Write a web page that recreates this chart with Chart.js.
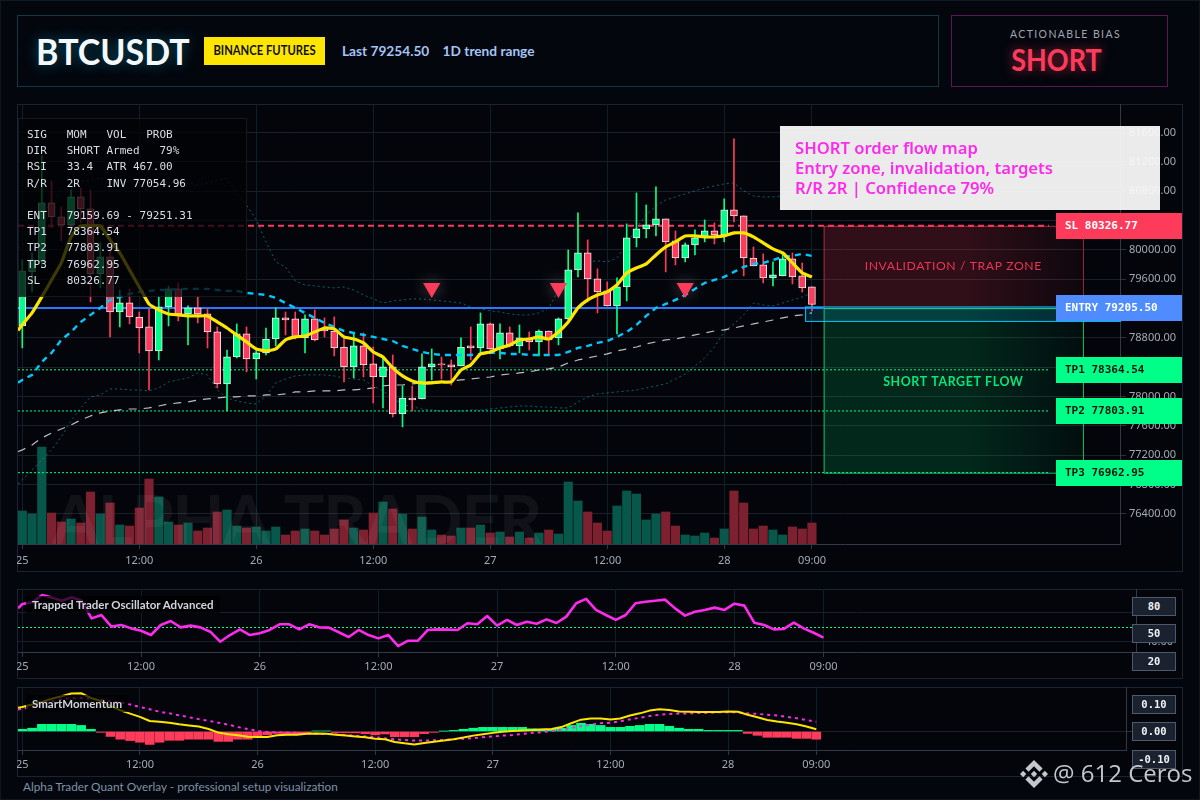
<!DOCTYPE html>
<html><head><meta charset="utf-8">
<script src="https://cdn.jsdelivr.net/npm/chart.js@4"></script>
<style>
html,body{margin:0;padding:0;width:1200px;height:800px;overflow:hidden;background:#04060d;}
#root{position:relative;width:1200px;height:800px;font-family:'Lato','Noto Sans',sans-serif;box-sizing:border-box;}
.frame{position:absolute;left:0;top:0;width:1200px;height:800px;box-sizing:border-box;border:1px solid #10151f;border-top-color:#0d1a26;pointer-events:none;}
.box{position:absolute;box-sizing:border-box;}
.panel{position:absolute;box-sizing:border-box;background:#03050a;border:1px solid #1b2433;}
canvas{position:absolute;display:block;}
#title{position:absolute;left:36px;top:27px;font:700 36px/48px 'Lato',sans-serif;color:#f4f8ff;text-shadow:0 0 14px rgba(0,210,255,.4);transform:scaleX(.945);transform-origin:left center;}
#badge{position:absolute;left:204px;top:37px;width:121px;height:28px;background:#ffe600;}
#badge span{display:block;width:121px;text-align:center;color:#111;font:700 12.5px/28px 'Lato',sans-serif;transform:scaleX(.9);}
#last{position:absolute;left:342px;top:42px;font:700 13.7px/18px 'Lato',sans-serif;color:#a5c4f5;white-space:pre;}
#biasT{position:absolute;left:957px;width:217px;top:27px;text-align:center;font:400 10.5px/14px 'Lato',sans-serif;letter-spacing:1.4px;color:#a0a7b4;}
#biasV{position:absolute;left:948px;width:217px;top:40px;text-align:center;font:700 30px/38px 'Lato',sans-serif;color:#ff3b5c;text-shadow:0 0 12px rgba(255,59,92,.6);transform:scaleX(.9);}
#info{position:absolute;left:18px;top:118px;width:229px;height:179px;box-sizing:border-box;background:rgba(1,2,5,.76);border:1px solid rgba(60,66,78,.35);padding:8px 0 0 8px;font:11px/16.2px 'DejaVu Sans Mono',monospace;color:#d9dfe8;white-space:pre;}
#note{position:absolute;left:780px;top:126px;width:380px;height:84px;background:rgba(250,250,250,.94);color:#ff2bea;font:600 16.6px/20px 'Noto Sans',sans-serif;padding:12px 0 0 15px;box-sizing:border-box;white-space:pre;}
.tag{position:absolute;left:1056px;width:126px;height:26px;font:700 11px/26px 'DejaVu Sans Mono',monospace;padding-left:9px;box-sizing:border-box;white-space:pre;}
.vbox{position:absolute;left:1132px;width:44px;height:19px;box-sizing:border-box;background:#1a222f;border:1px solid #4d5a6b;color:#f0f4f8;font:700 10.5px/17px 'DejaVu Sans Mono',monospace;text-align:center;}
.plabel{position:absolute;left:26px;height:17px;background:rgba(0,0,0,.72);padding:0 6px;color:#cfd5de;font:700 11.5px/17px 'Lato',sans-serif;white-space:pre;}
#foot{position:absolute;left:23px;top:780px;font:11.8px/14px 'Lato',sans-serif;color:#7c93a6;}
#mark{position:absolute;left:1053px;top:757px;font:400 24px/32px 'Open Sans',sans-serif;color:#c4c8cd;white-space:pre;}
#logo{position:absolute;left:1020px;top:760px;width:28px;height:28px;}
</style></head>
<body><div id="root">
<div class="box" style="left:17px;top:15px;width:922px;height:72px;background:#03060d;border:1px solid #0e3a45"></div>
<div id="title">BTCUSDT</div><div id="badge"><span>BINANCE FUTURES</span></div><div id="last">Last 79254.50    1D trend range</div>
<div class="box" style="left:951px;top:15px;width:217px;height:72px;background:#03060d;border:1px solid #5a1656"></div>
<div id="biasT">ACTIONABLE BIAS</div><div id="biasV">SHORT</div>
<div class="panel" style="left:17px;top:104px;width:1166px;height:468px"></div>
<div class="panel" style="left:17px;top:589px;width:1166px;height:90px"></div>
<div class="panel" style="left:17px;top:687px;width:1166px;height:90px"></div>
<canvas id="cMain" style="left:17px;top:104px"></canvas>
<canvas id="cOsc" style="left:17px;top:589px"></canvas>
<canvas id="cMom" style="left:17px;top:687px"></canvas>
<div id="info">SIG   MOM   VOL   PROB
DIR   SHORT Armed   79%
RSI   33.4  ATR 467.00
R/R   2R    INV 77054.96

ENT   79159.69 - 79251.31
TP1   78364.54
TP2   77803.91
TP3   76962.95
SL    80326.77</div>
<div id="note">SHORT order flow map
Entry zone, invalidation, targets
R/R 2R | Confidence 79%</div>
<div class="tag" id="tSL" style="background:#ff3b5c;color:#fff">SL 80326.77</div>
<div class="tag" id="tEN" style="background:#4f8cff;color:#fff">ENTRY 79205.50</div>
<div class="tag" id="tT1" style="background:#00ff88;color:#06140e">TP1 78364.54</div>
<div class="tag" id="tT2" style="background:#00ff88;color:#06140e">TP2 77803.91</div>
<div class="tag" id="tT3" style="background:#00ff88;color:#06140e">TP3 76962.95</div>
<div class="plabel" style="top:596px">Trapped Trader Oscillator Advanced</div>
<div class="plabel" style="top:695px">SmartMomentum</div>
<div class="vbox" style="top:597px">80</div><div class="vbox" style="top:624px">50</div><div class="vbox" style="top:652px">20</div>
<div class="vbox" style="top:695px">0.10</div><div class="vbox" style="top:722px">0.00</div><div class="vbox" style="top:750px">-0.10</div>
<div id="foot">Alpha Trader Quant Overlay - professional setup visualization</div>
<svg id="logo" viewBox="0 0 126.61 126.61"><path fill="#c4c8cd" d="M38.73 53.2l24.59-24.58 24.6 24.6 14.3-14.31L63.32 0 24.43 38.9zM0 63.31l14.3-14.31 14.31 14.31-14.31 14.3zM38.73 73.41l24.59 24.59 24.6-24.6 14.31 14.29-38.9 38.91-38.91-38.88-.02-.02zM98 63.31l14.3-14.31 14.31 14.3-14.31 14.32zM77.83 63.3L63.32 48.78 52.59 59.51l-1.24 1.23-2.54 2.54 14.51 14.5 14.51-14.47z"/></svg>
<div id="mark">@ 612 Ceros</div>
<div class="frame"></div>
</div>
<script>
const open=[78963,79699,79835,80639,80448,80339,80721,80557,79671,79903,
79153,79276,79085,78949,78622,79222,79467,79126,79208,79126,
78881,78172,78540,78854,78513,78595,78785,79072,79058,78799,
79058,78922,78894,78676,78404,78690,78445,78267,78404,77763,
77981,77968,78404,78445,78431,78417,78690,78663,78990,78649,
78867,78690,78785,78745,78894,78799,79058,79726,79958,79603,
79440,79235,79494,80162,80285,80339,80421,80121,79889,80067,
80162,80257,80203,80544,80462,79889,79794,79617,79644,79876,
79644,79494];
const close=[79712,79862,80639,80448,80339,80721,80557,79671,79903,79153,
79276,79085,78935,78622,79222,79467,79126,79208,79126,78881,
78172,78540,78854,78513,78595,78785,79072,79044,78813,79058,
78772,78894,78663,78404,78690,78431,78267,78404,77763,77981,
77954,78404,78445,78431,78404,78676,78663,78990,78649,78867,
78690,78799,78745,78894,78772,79058,79726,79958,79603,79426,
79235,79494,80162,80285,80339,80421,80108,79889,80067,80162,
80257,80203,80544,80462,79889,79780,79617,79658,79876,79631,
79481,79254.5];
const high=[79862,79958,81280,80939,80585,80816,80843,80816,80094,80039,
79453,79467,79153,79194,79358,79508,79549,79235,79358,79194,
78949,78635,78990,78949,78622,78935,79208,79153,79153,79113,
79181,79072,79085,78799,78867,78867,78676,78526,78567,78145,
78145,78581,78649,78540,78499,78799,78949,79140,79004,78990,
78949,78976,78881,78908,78894,79072,79998,80503,80135,79740,
79562,79617,80353,80775,80612,80857,80421,80257,80094,80271,
80407,80367,80694,81511,80462,80039,79944,79835,79958,79958,
79821,79494];
const low=[78663,79426,79767,80298,80121,80244,80367,79290,79481,78813,
78949,78990,78595,78090,78499,78963,79031,78704,79004,78663,
78118,77804,78526,78336,78240,78567,78690,78840,78785,78595,
78758,78813,78554,78199,78254,78267,77913,77845,77722,77586,
77804,77968,78227,78240,78158,78417,78499,78595,78635,78513,
78676,78595,78635,78554,78567,78704,79044,79631,79290,79140,
79235,78854,79303,80039,80162,80189,79699,79794,79835,79930,
80108,80080,80108,80380,79644,79780,79549,79508,79644,79535,
79426,79167];
const volume=[330,300,970,310,220,250,210,520,300,410,
190,180,360,650,470,220,190,210,130,160,
320,340,180,160,170,130,170,90,130,150,
130,90,150,240,160,140,310,420,350,300,
150,270,140,90,80,160,160,190,110,120,
70,120,60,110,140,100,620,430,320,210,
130,380,530,500,240,300,320,180,90,80,
110,60,150,530,410,150,180,140,90,170,
150,210];
const emaFast=[78980,79140,79358,79589,79821,80176,80326,80326,80326,80135,
79958,79726,79494,79262,79181,79126,79113,79099,79099,79099,
79017,78935,78840,78745,78649,78622,78649,78772,78813,78826,
78881,78935,78922,78813,78785,78731,78608,78540,78390,78281,
78213,78186,78186,78199,78199,78363,78431,78581,78608,78663,
78704,78772,78785,78813,78785,78881,79017,79208,79317,79385,
79426,79521,79685,79753,79808,79930,80039,80108,80189,80189,
80176,80176,80189,80230,80230,80176,80094,80012,79958,79821,
79685,79631];
const emaSlow=[78227,78295,78472,78595,78772,78881,79017,79113,79208,79317,
79358,79399,79426,79440,79453,79453,79467,79467,79467,79467,
79453,79440,79440,79412,79399,79385,79344,79276,79208,79140,
79072,79004,78949,78894,78867,78840,78813,78785,78758,78690,
78649,78608,78581,78567,78567,78567,78567,78581,78595,78595,
78581,78581,78567,78567,78567,78567,78608,78663,78690,78731,
78758,78813,78881,78976,79099,79208,79262,79317,79385,79467,
79549,79589,79631,79699,79767,79808,79821,79862,79903,79917,
79944,79917];
const bbUpper=[80067,80230,80435,80680,80803,80884,80925,80953,80980,80939,
80925,80925,80925,80925,80925,80912,80912,80912,80884,80912,
80953,80966,80775,80612,80407,80108,79835,79767,79576,79521,
79508,79494,79481,79494,79453,79385,79331,79276,79303,79317,
79331,79331,79317,79303,79290,79276,79222,79194,79167,79153,
79126,79113,79113,79140,79208,79453,79658,79767,79835,79849,
79835,79889,80067,80298,80476,80598,80680,80721,80762,80803,
80844,80871,80898,80912,80803,80734,80721,80721,80734,80734,
80748,80734];
const bbLower=[76864,77000,77136,77273,77450,77668,77845,77995,78022,78104,
78104,78090,78090,78077,78118,78199,78227,78254,78322,78295,
78090,77981,77940,77913,77899,78009,78186,78240,78281,78295,
78295,78295,78281,78254,78240,78227,78145,78077,77981,77899,
77859,77831,77818,77804,77804,77804,77818,77818,77831,77845,
77859,77872,77872,77859,77859,77845,77845,77927,77995,78036,
78050,78063,78077,78090,78118,78145,78172,78240,78308,78417,
78526,78676,78881,78990,79113,79276,79249,79235,79276,79317,
79358,79412];
const trend=[77273,77341,77436,77504,77559,77613,77681,77736,77777,77804,
77818,77831,77831,77845,77872,77899,77913,77927,77954,77968,
77981,77995,77995,78009,78009,78022,78022,78036,78063,78063,
78077,78077,78077,78090,78090,78104,78118,78145,78158,78158,
78172,78186,78199,78199,78213,78227,78240,78254,78267,78295,
78308,78322,78336,78363,78377,78404,78458,78499,78526,78554,
78581,78622,78649,78676,78717,78745,78772,78785,78813,78840,
78867,78894,78908,78935,78963,78990,79017,79044,79072,79099,
79113,79140];
const osc=[66.2,67.4,72.4,70.6,68.5,70.8,68.5,56.3,58.6,50.6,
51.7,49.4,47.8,44.8,51.7,54.5,50.1,51.3,50.1,47.1,
40.2,44.8,48.7,44.8,46,48.3,52.2,52.2,48.7,52.2,
50.1,49.9,46.7,43.4,48.3,44.8,42.5,44.8,37.2,40.9,
40.9,48.3,48.7,48.5,48.3,52.9,52.2,57.9,51.3,55.2,
51.7,54,52.6,55.6,53.1,57.5,66.7,69.7,62.1,58.6,
55.2,58.6,66.7,67.8,68.5,69.2,63.2,58.2,60.9,62.1,
63.7,62.1,66.4,65.1,53.3,51.7,48.7,49,53.3,49.4,
46.4,43];
const momLine=[.089,.098,.107,.119,.128,.138,.139,.122,.111,.093,
.077,.065,.053,.038,.035,.032,.026,.022,.018,.009,
-.004,-.010,-.014,-.019,-.020,-.020,-.014,-.012,-.012,-.008,
-.007,-.008,-.012,-.015,-.018,-.021,-.026,-.028,-.038,-.043,
-.047,-.042,-.037,-.033,-.028,-.022,-.015,-.010,-.005,-.001,
.002,.004,.005,.007,.009,.016,.030,.043,.047,.047,
.044,.047,.058,.066,.076,.081,.078,.073,.072,.071,
.071,.071,.073,.072,.061,.052,.042,.036,.032,.026,
.018,.008];
const momSignal=[.083,.089,.101,.110,.117,.121,.122,.119,.116,.110,
.106,.098,.089,.081,.072,.066,.059,.052,.045,.039,
.032,.025,.016,.009,.002,-.002,-.003,-.004,-.005,-.007,
-.008,-.009,-.010,-.013,-.015,-.018,-.021,-.025,-.028,-.031,
-.033,-.033,-.032,-.031,-.028,-.026,-.024,-.021,-.018,-.015,
-.013,-.009,-.005,-.002,.002,.007,.013,.019,.025,.030,
.032,.037,.044,.050,.056,.061,.064,.065,.066,.067,
.068,.070,.070,.070,.066,.064,.061,.058,.053,.048,
.042,.035];
const momHist=[.008,.012,.026,.026,.026,.026,.022,.008,-.003,-.018,
-.028,-.033,-.039,-.047,-.039,-.032,-.032,-.028,-.028,-.028,
-.036,-.036,-.028,-.028,-.021,-.012,-.007,-.008,-.009,-.005,
.002,.002,-.004,-.004,-.005,-.008,-.012,-.009,-.019,-.019,
-.019,-.008,-.003,.001,.004,.008,.012,.015,.015,.015,
.015,.015,.010,.009,.008,.012,.022,.030,.026,.022,
.015,.015,.019,.022,.026,.026,.019,.012,.008,.008,
.004,.004,.004,.004,-.007,-.014,-.021,-.021,-.021,-.025,
-.025,-.028];
const priceTicks=[76400,76800,77200,77600,78000,78400,78800,79200,79600,80000,80400,80800,81200,81600];
const timeTickPos=[0,12,24,36,48,60,72,81];
const timeTickLabels=['25','12:00','26','12:00','27','12:00','28','09:00'];
const levelSL=80326.77, levelEntry=79205.50, levelTP1=78364.54, levelTP2=77803.91, levelTP3=76962.95;
const signalHours=[42,55,68];
const signalPrices=[79480,79480,79480];
const entryBand=[79228,79031];
const xSpan=[-0.44,112.6];
const zoneSpan=[82.2,108.8];
const entryBandStart=80.3;
const levelEnd=105.3;
const leadEmaFast=78900, leadEmaSlow=78190, leadBbUpper=80030, leadBbLower=76810, leadTrend=77250, leadOsc=63.2, leadMomLine=.086, leadMomSignal=.080;

const pts=(a,lead)=>{const r=a.map((y,i)=>({x:i,y}));if(lead!==undefined)r.unshift({x:xSpan[0],y:lead});return r;};
const UP='#00ff88',DN='#ff3b5c';
const isUp=i=>close[i]>=open[i];
const axisFont={family:"'Noto Sans',sans-serif",size:11};
const tickCol='#a4abb5';
const lineBase={type:'line',pointRadius:0,borderJoinStyle:'round',fill:false,spanGaps:true};
const noPad=s=>{s.paddingLeft=s.paddingRight=s.paddingTop=s.paddingBottom=0;};
function xAxis(h,pad){return{type:'linear',min:xSpan[0],max:xSpan[1],offset:false,
  afterBuildTicks:s=>{s.ticks=timeTickPos.map(v=>({value:v}));},
  afterFit:s=>{s.height=h;noPad(s);},
  ticks:{autoSkip:false,maxRotation:0,minRotation:0,padding:pad,color:tickCol,font:axisFont,callback:(v)=>timeTickLabels[timeTickPos.indexOf(v)]},
  grid:{offset:false,color:'#0b2029',tickColor:'#2a3a46',tickLength:5,lineWidth:1},
  border:{color:'#303a4a',width:1}};}
function yAxis(w,min,max,list,fmt){return{type:'linear',position:'right',min,max,offset:false,
  afterBuildTicks:s=>{s.ticks=list.map(v=>({value:v}));},
  afterFit:s=>{s.width=w;noPad(s);},
  ticks:{padding:3,color:tickCol,font:axisFont,callback:fmt},
  grid:{color:'#1a2029',tickColor:'#2b3340',tickLength:6,lineWidth:1},
  border:{color:'#303a4a',width:1}};}
const baseOpts={responsive:false,animation:false,devicePixelRatio:1,
  events:[],plugins:{legend:{display:false},tooltip:{enabled:false}},
  datasets:{bar:{grouped:false}}};
const layoutOpts={autoPadding:false,padding:{left:1,top:0,right:0,bottom:0}};

function size(id,w,h){const c=document.getElementById(id);c.width=w;c.height=h;c.style.width=w+'px';c.style.height=h+'px';return c;}

const decor={id:'decor',
 afterDatasetDraw(chart,args){
  const label=chart.data.datasets[args.index].label;
  if(label==='signal'){chart.ctx.restore();return;}
  if(label!=='volume')return;
  const {ctx,chartArea:a}=chart;
  ctx.save();ctx.beginPath();ctx.rect(a.left,a.top,a.right-a.left,a.bottom-a.top);ctx.clip();
  ctx.font="700 68px 'Lato',sans-serif";ctx.fillStyle='rgba(255,255,255,.055)';
  ctx.textBaseline='alphabetic';ctx.letterSpacing='-1.5px';ctx.fillText('ALPHA TRADER',a.left+34,a.bottom+1);
  ctx.restore();
 },
 beforeDatasetDraw(chart,args){
  if(chart.data.datasets[args.index].label==='signal'){const c=chart.ctx;c.save();c.shadowColor='rgba(255,255,255,.35)';c.shadowBlur=16;}
 },
 afterDatasetsDraw(chart){
  const {ctx,scales:{x,y}}=chart;
  const x0=x.getPixelForValue(zoneSpan[0]),x1=x.getPixelForValue(zoneSpan[1]);
  function zone(top,bot,r,g,b,a0,a1,stroke){
   const yt=y.getPixelForValue(top),yb=y.getPixelForValue(bot);
   const gr=ctx.createLinearGradient(x0,0,x1,0);
   gr.addColorStop(0,`rgba(${r},${g},${b},${a0})`);gr.addColorStop(.55,`rgba(${r},${g},${b},${a0})`);gr.addColorStop(1,`rgba(${r},${g},${b},${a1})`);
   ctx.fillStyle=gr;ctx.fillRect(x0,yt,x1-x0,yb-yt);
   ctx.strokeStyle=stroke;ctx.lineWidth=1;ctx.strokeRect(x0+.5,yt+.5,x1-x0,yb-yt);
  }
  zone(levelSL,levelEntry,255,59,92,.18,.05,'rgba(255,59,92,.6)');
  zone(levelEntry,levelTP3,0,255,136,.14,.04,'rgba(0,255,136,.75)');
  const bx=x.getPixelForValue(entryBandStart),by=y.getPixelForValue(entryBand[0]),bb=y.getPixelForValue(entryBand[1]);
  ctx.fillStyle='rgba(0,200,255,.16)';ctx.fillRect(bx,by,x.right-bx,bb-by);
  ctx.strokeStyle='#00c8ff';ctx.lineWidth=1;ctx.strokeRect(bx+.5,by+.5,x.right-bx,bb-by);
  ctx.textAlign='center';ctx.textBaseline='middle';
  ctx.font="400 12.2px 'Lato',sans-serif";ctx.letterSpacing='.6px';ctx.fillStyle='rgba(255,59,92,.9)';
  ctx.fillText('INVALIDATION / TRAP ZONE',(x0+x1)/2,y.getPixelForValue(79780));
  ctx.font="700 12.4px 'Lato',sans-serif";ctx.fillStyle='#00e87c';
  ctx.fillText('SHORT TARGET FLOW',(x0+x1)/2,y.getPixelForValue(78195));
  ctx.letterSpacing='0px';
  [['tSL',levelSL],['tEN',levelEntry],['tT1',levelTP1],['tT2',levelTP2],['tT3',levelTP3]].forEach(([id,v])=>{
    document.getElementById(id).style.top=(104+y.getPixelForValue(v)-13)+'px';});
 }
};

new Chart(size('cMain',1166,468),{
 data:{datasets:[
  {label:'volume',type:'bar',order:20,yAxisID:'v',barThickness:8.5,data:pts(volume),
   backgroundColor:volume.map((_,i)=>isUp(i)?'#07574a':'#7d2030')},
  {...lineBase,label:'bbUpper',order:18,data:pts(bbUpper,leadBbUpper),borderColor:'rgba(0,175,210,.55)',borderWidth:1,borderDash:[2,3]},
  {...lineBase,label:'bbLower',order:18,data:pts(bbLower,leadBbLower),borderColor:'rgba(0,175,210,.55)',borderWidth:1,borderDash:[2,3]},
  {...lineBase,label:'sl',order:16,data:[{x:xSpan[0],y:levelSL},{x:levelEnd,y:levelSL}],borderColor:'#ff3b5c',borderWidth:2,borderDash:[6,4]},
  {...lineBase,label:'entry',order:16,data:[{x:xSpan[0],y:levelEntry},{x:zoneSpan[0],y:levelEntry}],borderColor:'#2878ff',borderWidth:2},
  {...lineBase,label:'tp1',order:16,data:[{x:xSpan[0],y:levelTP1},{x:levelEnd,y:levelTP1}],borderColor:'#00ff88',borderWidth:1,borderDash:[2,2]},
  {...lineBase,label:'tp2',order:16,data:[{x:xSpan[0],y:levelTP2},{x:levelEnd,y:levelTP2}],borderColor:'#00ff88',borderWidth:1,borderDash:[2,2]},
  {...lineBase,label:'tp3',order:16,data:[{x:xSpan[0],y:levelTP3},{x:levelEnd,y:levelTP3}],borderColor:'#00ff88',borderWidth:1,borderDash:[2,2]},
  {...lineBase,label:'trend',order:14,data:pts(trend,leadTrend),borderColor:'rgba(235,235,235,.8)',borderWidth:1.2,borderDash:[8,7]},
  {label:'wick',type:'bar',order:12,barThickness:1,data:open.map((_,i)=>({x:i,y:[low[i],high[i]]})),
   backgroundColor:open.map((_,i)=>isUp(i)?UP:DN)},
  {label:'body',type:'bar',order:10,barThickness:7,borderWidth:1,borderColor:'rgba(255,255,255,.92)',borderSkipped:false,
   data:open.map((_,i)=>({x:i,y:[Math.min(open[i],close[i]),Math.max(open[i],close[i])]})),
   backgroundColor:open.map((_,i)=>isUp(i)?UP:DN)},
  {...lineBase,label:'emaSlow',order:8,data:pts(emaSlow,leadEmaSlow),borderColor:'#00c8ff',borderWidth:2.4,borderDash:[6,5]},
  {...lineBase,label:'emaFast',order:6,data:pts(emaFast,leadEmaFast),borderColor:'#ffe600',borderWidth:3.2,tension:.15},
  {...lineBase,label:'signal',order:4,showLine:false,data:signalHours.map((h,i)=>({x:h,y:signalPrices[i]})),
   pointStyle:'triangle',pointRotation:180,pointRadius:10,pointBackgroundColor:'#ff3b5c',pointBorderWidth:0}
 ]},
 options:{...baseOpts,layout:layoutOpts,
  scales:{x:xAxis(28,5),
   y:yAxis(63,75991,81987,priceTicks,v=>v.toFixed(2)),
   v:{type:'linear',display:false,min:0,max:4400}}},
 plugins:[decor]
});

new Chart(size('cOsc',1166,90),{
 data:{datasets:[
  {...lineBase,label:'mid',order:5,data:[{x:xSpan[0],y:50},{x:xSpan[1],y:50}],borderColor:'#00ff88',borderWidth:1,borderDash:[2,2]},
  {...lineBase,label:'osc',order:2,data:pts(osc,leadOsc),borderColor:'#ff2bea',borderWidth:2.6}
 ]},
 options:{...baseOpts,layout:layoutOpts,
  scales:{x:xAxis(27,3),y:yAxis(47,33.1,76.55,[40,60],v=>v.toFixed(2))}}
});

new Chart(size('cMom',1166,90),{
 data:{datasets:[
  {label:'hist',type:'bar',order:8,barThickness:9,data:pts(momHist),backgroundColor:momHist.map(v=>v>=0?UP:DN)},
  {...lineBase,label:'signal2',order:4,data:pts(momSignal,leadMomSignal),borderColor:'#ff2bea',borderWidth:2,borderDash:[3,4]},
  {...lineBase,label:'line',order:2,data:pts(momLine,leadMomLine),borderColor:'#ffe600',borderWidth:2}
 ]},
 options:{...baseOpts,layout:layoutOpts,
  scales:{x:xAxis(27,3),y:yAxis(57,-.0673,.1618,[0],v=>v.toFixed(2))}}
});
</script>
</body></html>
